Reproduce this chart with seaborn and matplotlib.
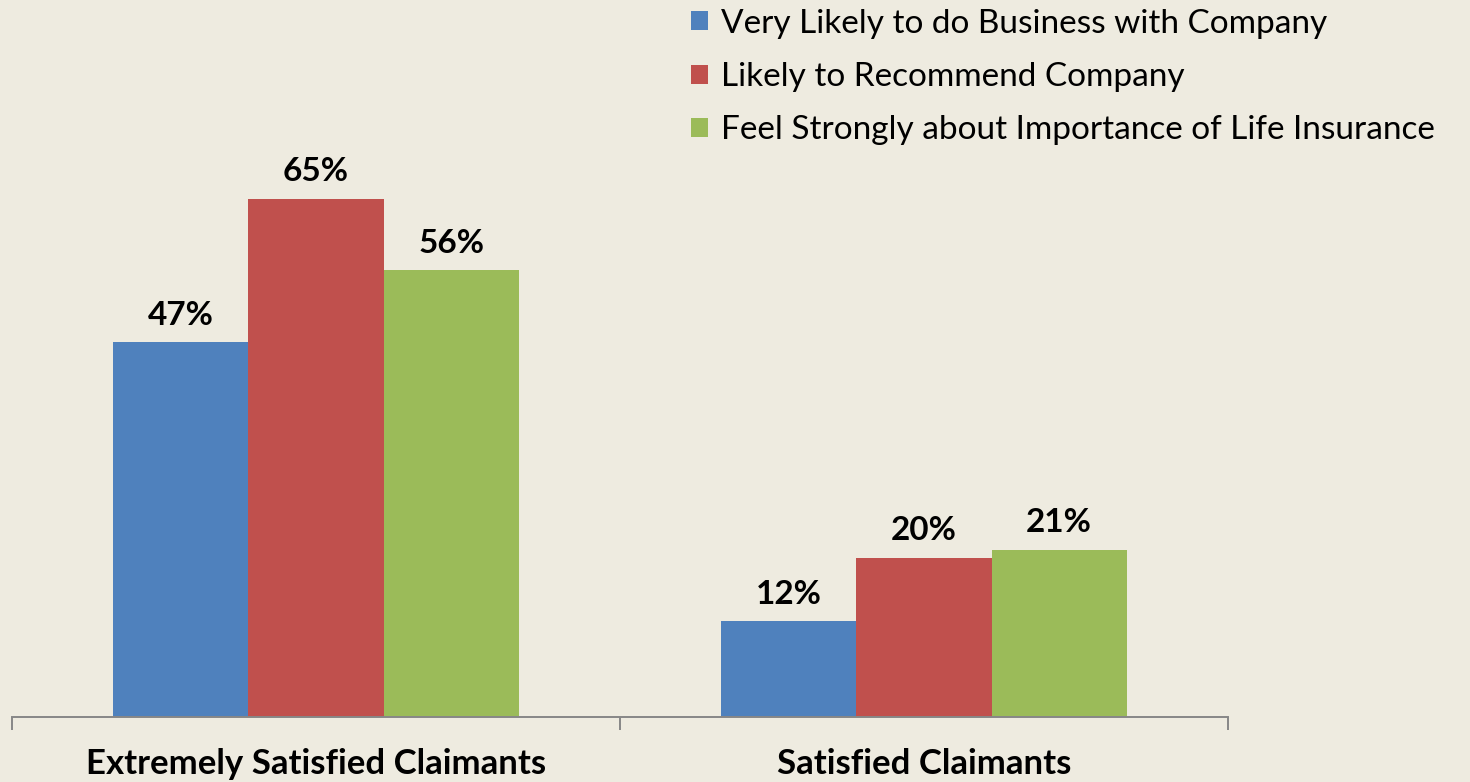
import matplotlib.pyplot as plt
import seaborn as sns
import pandas as pd
from matplotlib.patches import Patch

# data
groups = ['Extremely Satisfied Claimants', 'Satisfied Claimants']
series = ['Very Likely to do Business with Company',
          'Likely to Recommend Company',
          'Feel Strongly about Importance of Life Insurance']
business = [47, 12]
recommend = [65, 20]
importance = [56, 21]

colors = ['#4F81BD', '#C0504D', '#9BBB59']
bg = '#EEEBE0'
axis_grey = '#878787'

rows = []
for name, vals in zip(series, [business, recommend, importance]):
    for g, v in zip(groups, vals):
        rows.append({'group': g, 'series': name, 'value': v})
df = pd.DataFrame(rows)

sns.set_theme(style='white')
plt.rcParams['font.family'] = ['Lato', 'DejaVu Sans']
plt.rcParams['text.color'] = 'black'
plt.rcParams['xtick.color'] = 'black'

fig = plt.figure(figsize=(14.7, 7.82), dpi=100, facecolor=bg)
ax = fig.add_axes([12 / 1470, 65 / 782, 1216 / 1470, 638 / 782])
ax.set_facecolor(bg)

sns.barplot(data=df, x='group', y='value', hue='series', hue_order=series,
            order=groups, palette=colors, saturation=1, width=0.667,
            linewidth=0, legend=False, ax=ax)

for cont in ax.containers:
    ax.bar_label(cont, labels=[f'{int(b.get_height())}%' for b in cont],
                 padding=9, fontsize=24, fontweight='bold', color='black')

ax.set_xlim(-0.5, 1.5)
ax.set_ylim(0, 80)
ax.set_yticks([])
ax.set_xlabel('')
ax.set_ylabel('')

# tick marks at the category boundaries, labels at the centres
ax.set_xticks([-0.5, 0.5, 1.5])
ax.set_xticklabels([])
ax.set_xticks([0, 1], minor=True)
ax.set_xticklabels(groups, minor=True, fontsize=25, fontweight='bold',
                   color='black')
ax.tick_params(axis='x', which='major', direction='out', length=9,
               width=1.4, color=axis_grey, bottom=True)
ax.tick_params(axis='x', which='minor', length=0, pad=22, bottom=True)

for s in ['left', 'top', 'right']:
    ax.spines[s].set_visible(False)
ax.spines['bottom'].set_color(axis_grey)
ax.spines['bottom'].set_linewidth(1.4)

handles = [Patch(facecolor=c, edgecolor='none', label=s)
           for c, s in zip(colors, series)]
fig.legend(handles=handles, loc='upper left',
           bbox_to_anchor=(678 / 1470, 1.006), frameon=False, fontsize=24,
           handlelength=0.5, handleheight=0.5, handletextpad=0.4,
           labelspacing=0.7, borderaxespad=0.0, labelcolor='black')

fig.savefig('out.png', dpi=100, facecolor=bg)
